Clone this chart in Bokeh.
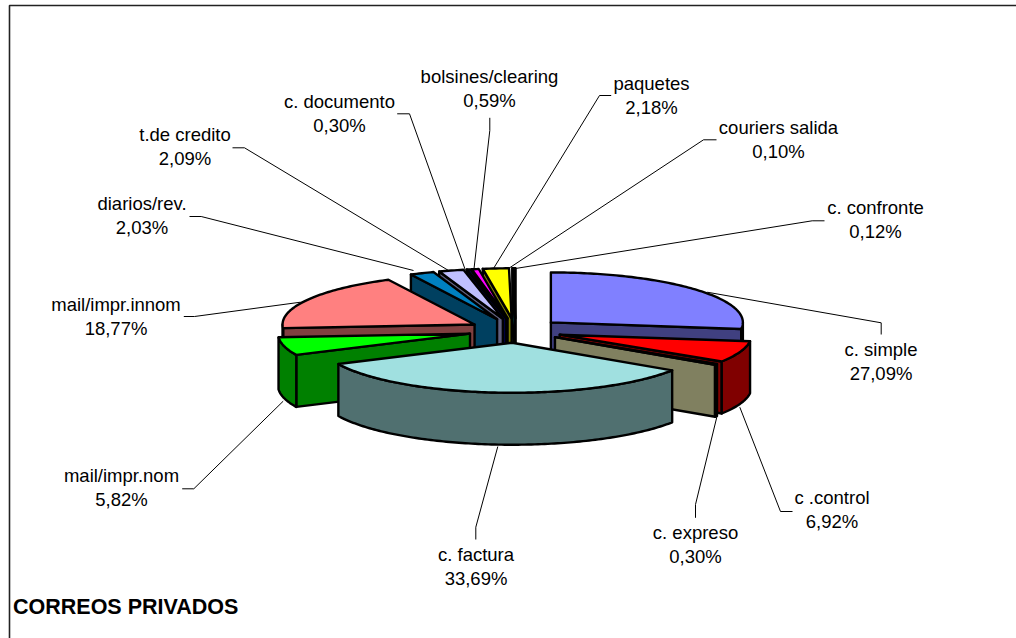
import math

from bokeh.core.properties import value
from bokeh.embed import file_html
from bokeh.models import ColumnDataSource, Range1d
from bokeh.plotting import figure
from bokeh.resources import INLINE

# Share of each mail category, clockwise from twelve o'clock
categories = ["c. simple", "c .control", "c. expreso", "c. factura",
              "mail/impr.nom", "mail/impr.innom", "diarios/rev.", "t.de credito",
              "c. documento", "bolsines/clearing", "paquetes", "couriers salida",
              "c. confronte"]
shares = [27.09, 6.92, 0.30, 33.69, 5.82, 18.77, 2.03, 2.09, 0.30, 0.59, 2.18, 0.10, 0.12]

top_colors = ["#8080FF", "#FF0000", "#FFFFC0", "#A0E0E0", "#00FF00", "#FF8080", "#0080C0",
              "#C0C0FF", "#000080", "#FF00FF", "#FFFF00", "#00FFFF", "#800080"]
side_colors = ["#404080", "#800000", "#808060", "#507070", "#008000", "#804040", "#004060",
               "#606080", "#000040", "#800080", "#808000", "#008080", "#400040"]

# Label placement: centre x and first-line y for each category
label_x = [880.5, 831.5, 695, 475.5, 121, 115.5, 141.5, 184.5, 339, 489, 651, 778, 875]
label_y = [349, 497, 532, 554, 475, 303.5, 203, 134, 100.5, 76, 82.5, 126.5, 207]

# Leader paths from the label towards its slice
leader_x = [[880.7, 880.7, 706.7], [792, 780, 739.3], [695, 695, 716.7], [475.3, 475.3, 497.3],
            [181.7, 193.3, 282.7], [183.3, 194, 300], [189, 200.7, 413], [232, 244, 448],
            [396.7, 409, 465], [489.3, 489.3, 473.3], [610.7, 599, 493], [716, 703, 508],
            [824, 811.7, 515]]
leader_y = [[334, 322.3, 291.7], [511, 511, 406.7], [517.3, 504, 415], [539, 526.7, 446],
            [488.3, 488.3, 400.7], [316, 316, 301.7], [216, 216, 270], [147.3, 147.3, 270],
            [113.3, 113.3, 270], [117.3, 130, 270], [95, 95, 268], [139.3, 139.3, 268],
            [220.3, 220.3, 268]]

title_text = "CORREOS PRIVADOS"
FONT = "Liberation Sans"

# Projection of the tilted, exploded pie
CX, CY = 515.0, 330.0
RX, RY = 192.0, 50.0
DEPTH = 52.0
EXPLODE = 0.245


def rim_point(ax, ay, deg):
    rad = math.radians(deg)
    return ax + RX * math.sin(rad), ay - RY * math.cos(rad)


def arc_points(ax, ay, a, b):
    steps = max(2, int(abs(b - a)) + 2)
    return [rim_point(ax, ay, a + (b - a) * i / (steps - 1)) for i in range(steps)]


def wall(points):
    """Extrude a polyline on the top surface downwards into a closed face."""
    return points + [(x, y + DEPTH) for x, y in reversed(points)]


# Build every slice's visible faces
slices = []
start = 0.0
for share, top, side in zip(shares, top_colors, side_colors):
    end = start + share * 3.6
    mid = (start + end) / 2
    rad = math.radians(mid)
    ax = CX + EXPLODE * RX * math.sin(rad)
    ay = CY - EXPLODE * RY * math.cos(rad)
    faces = []
    # Radial faces are shown only when their outward normal points to the viewer
    if -math.cos(math.radians(start - 90)) > 0:
        faces.append((wall([(ax, ay), rim_point(ax, ay, start)]), side))
    if -math.cos(math.radians(end + 90)) > 0:
        faces.append((wall([(ax, ay), rim_point(ax, ay, end)]), side))
    # The outer rim is visible on the near half only
    lo, hi = max(start, 90.0), min(end, 270.0)
    if lo < hi:
        faces.append((wall(arc_points(ax, ay, lo, hi)), side))
    faces.append(([(ax, ay)] + arc_points(ax, ay, start, end), top))
    slices.append((math.cos(rad), faces))
    start = end

# Paint from the back of the pie to the front
slices.sort(key=lambda s: -s[0])
xs, ys, fills = [], [], []
for _, faces in slices:
    for pts, color in faces:
        xs.append([pt[0] for pt in pts])
        ys.append([pt[1] for pt in pts])
        fills.append(color)

p = figure(width=1016, height=638, output_backend="svg", toolbar_location=None,
           x_range=Range1d(0, 1016), y_range=Range1d(638, 0), min_border=0,
           outline_line_color=None, background_fill_color="white",
           border_fill_color="white")
p.axis.visible = False
p.grid.visible = False

# Chart area border, open at the window's right and bottom edges
p.line([9, 9, 1016], [638, 5, 5], line_color="#222222", line_width=1.6)

# Leaders go under the pie so their tips tuck behind the slices
p.multi_line(leader_x, leader_y, line_color="#000000", line_width=1)

p.patches(xs="xs", ys="ys", fill_color="fill", line_color="#000000", line_width=2.4,
          line_join="round",
          source=ColumnDataSource(dict(xs=xs, ys=ys, fill=fills)))

names = ColumnDataSource(dict(x=label_x, y=label_y, t=categories))
p.text("x", "y", text="t", source=names, text_font=value(FONT), text_font_size="18.5px",
       text_align="center", text_baseline="alphabetic", text_color="#000000")
percents = ColumnDataSource(dict(x=label_x, y=[v + 24 for v in label_y],
                                 t=[f"{v:.2f}%".replace(".", ",") for v in shares]))
p.text("x", "y", text="t", source=percents, text_font=value(FONT), text_font_size="18.5px",
       text_align="center", text_baseline="alphabetic", text_color="#000000")

p.text([12.5], [606.5], text=[title_text], text_font=value(FONT), text_font_size="21.5px",
       text_font_style="bold", text_align="left", text_baseline="alphabetic",
       text_color="#000000")

open("out.html", "w").write(file_html(p, INLINE))
